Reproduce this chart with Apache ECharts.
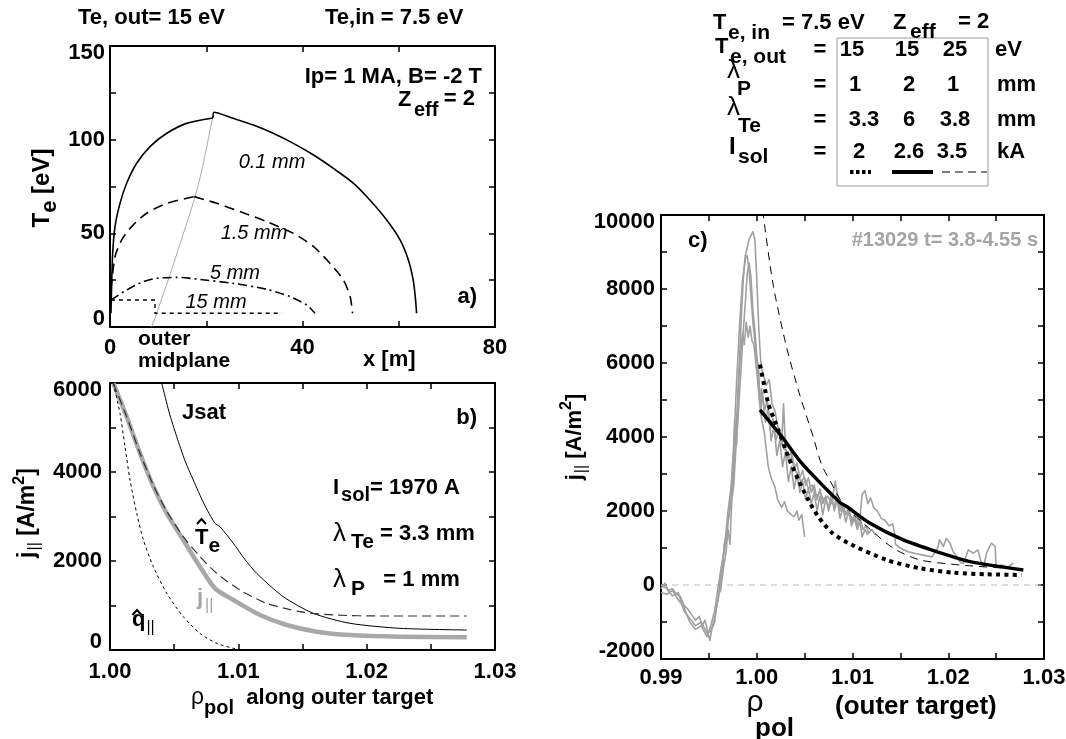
<!DOCTYPE html>
<html><head><meta charset="utf-8">
<script src="https://cdn.jsdelivr.net/npm/echarts@6/dist/echarts.min.js"></script>
<style>html,body{margin:0;padding:0;background:#fff}#c{width:1066px;height:739px}</style>
</head><body><div id="c"></div>
<script>
// ---------- Panel a: Te along field line x [m] (inner leg / outer leg) ----------
const te01In = [[0.2,7.3],[0.35,23.3],[0.55,39.3],[1.04,53.6],[2.08,66],[3.46,76.7],[5.54,87.4],[8.31,96.3],[11.8,103.4],[15.9,108.7],[21.4,111.6]];
const te01Out = [[21.4,111.6],[21.6,114.6],[25.6,111.4],[29.8,107.8],[33.9,103.4],[38.1,98],[42.3,91.8],[46.4,84.7],[50.6,76.7],[54,67.8],[57.5,57.1],[60.3,46.4],[62,35.8],[63,25.1],[63.5,14.4],[63.7,7.3]];
const te15In = [[0.2,20],[1.04,37.5],[2.4,46.4],[4.5,53.6],[7.6,60.7],[11.8,66],[17.5,69.6]];
const te15Out = [[17.5,69.6],[22.2,66],[27,61.6],[32.6,56.2],[38.1,50],[42.3,42.9],[45.7,34],[48.5,25.1],[49.9,16.2],[50.4,7.3]];
const te5 = [[0.2,14.4],[3.5,19.8],[6.9,24.2],[9.7,26],[13.85,26.5],[18.7,25.4],[25.6,23.3],[32.6,20.1],[37.4,16.2],[40.9,11.7],[42.6,7.3]];
const te150 = [[0.2,14.4],[9.35,14.4],[9.35,7.3],[35.7,7.3]];
const midplane = [[8.66,0],[10.4,12.5],[12.1,25.1],[14,40],[15.9,55],[17.7,69.6],[19.2,85],[20.4,100],[21.5,114]];

// ---------- Panel b: model profiles along outer target ----------
const jsat = [[1.0039,6100],[1.00403,5993],[1.0046,5350],[1.0052,4793],[1.00585,4250],[1.00649,3820],[1.0073,3300],[1.00818,2847],[1.00857,2771],[1.00961,2397],[1.0105,2040],[1.01143,1723],[1.0135,1198],[1.01584,824],[1.0187,600],[1.0226,487],[1.0278,449]];
const jpar = [[1.00026,5993],[1.0013,5243],[1.00234,4420],[1.00338,3670],[1.00442,3071],[1.00571,2472],[1.00701,1872],[1.00818,1386],[1.00961,1124],[1.01169,787],[1.01377,562],[1.0161,412],[1.0187,337],[1.0226,300],[1.0278,285]];
const teHat = [[1.00026,5993],[1.0013,5243],[1.00234,4420],[1.00338,3700],[1.00442,3120],[1.00571,2547],[1.00701,2097],[1.00831,1723],[1.01013,1348],[1.01221,1049],[1.0148,861],[1.0174,787],[1.0213,764],[1.0278,764]];
const qHat = [[1.00026,5993],[1.00078,5318],[1.00117,4568],[1.00156,3820],[1.00208,3071],[1.0026,2472],[1.00338,1872],[1.00442,1274],[1.00571,749],[1.00701,375],[1.00831,150],[1.00961,37],[1.0101,10]];

// ---------- Panel c: measured and modelled j|| ----------
const expA = [[0.99,-100],[0.9904,50],[0.9908,-150],[0.9912,-100],[0.9916,-250],[0.992,-300],[0.9924,-550],[0.9928,-650],[0.9932,-800],[0.9936,-950],[0.994,-850],[0.9943,-1100],[0.9946,-950],[0.9949,-1300],[0.9951,-1500],[0.9953,-1200],[0.9956,-1000],[0.9958,-600],[0.996,-350],[0.9962,100],[0.9964,300],[0.9966,1100],[0.9968,1300],[0.997,1700],[0.9972,2000],[0.9974,2500],[0.9976,3100],[0.9978,4000],[0.998,5000],[0.9982,6100],[0.9984,7300],[0.9986,8300],[0.9988,8900],[0.999,9100],[0.9992,9350],[0.9994,9400],[0.9996,9550],[0.9998,9350],[1.0,8300],[1.0002,7000],[1.0004,6100],[1.0006,5700],[1.0008,5600],[1.001,5400],[1.0013,5550],[1.0016,4900],[1.0019,4700],[1.0022,4300],[1.0025,4000],[1.0028,3700],[1.0031,3600],[1.0034,3300],[1.0037,3500],[1.004,3100],[1.0043,3000],[1.0046,2800],[1.005,2900],[1.0054,2600],[1.0058,2700],[1.0062,2400],[1.0066,2500],[1.007,2300],[1.0074,2400],[1.0078,2200],[1.0082,2800],[1.0085,2300],[1.0088,2100],[1.0092,2000],[1.0096,1900],[1.01,1800],[1.0104,1700],[1.0108,1900],[1.011,2450],[1.0113,2550],[1.0116,2200],[1.0119,2350],[1.0122,2100],[1.0126,2000],[1.013,1800],[1.0134,1750],[1.0138,1600],[1.0142,1650],[1.0144,1400],[1.0145,1100],[1.015,1000],[1.0158,900],[1.0166,850],[1.0175,800],[1.0183,760],[1.0189,1000],[1.0191,1220],[1.0195,1040],[1.0198,1260],[1.0202,1120],[1.0205,900],[1.0209,770],[1.0213,600],[1.0216,590],[1.0221,950],[1.0226,860],[1.0231,950],[1.0234,650],[1.0237,500],[1.024,860],[1.0245,1130],[1.0249,1040],[1.025,500],[1.0256,540],[1.0262,480],[1.0268,590]];
const expB = [[0.99,0],[0.9906,-100],[0.9912,-300],[0.9918,-200],[0.9924,-700],[0.993,-900],[0.9936,-1100],[0.9942,-1000],[0.9948,-1300],[0.9952,-1250],[0.9956,-900],[0.996,-300],[0.9964,600],[0.9967,1200],[0.997,2000],[0.9973,2600],[0.9976,3800],[0.9979,5500],[0.9982,7000],[0.9985,8200],[0.9988,8800],[0.999,8900],[0.9992,8500],[0.9994,7800],[0.9996,7100],[0.9998,6600],[1.0,6100],[1.0003,5000],[1.0005,4500],[1.0008,4100],[1.0012,3200],[1.0015,2900],[1.0019,2650],[1.0022,2300],[1.0026,2100],[1.0029,2250],[1.0032,2000],[1.0036,1900],[1.0039,1850],[1.0042,2000],[1.0044,1750],[1.0047,1900],[1.0049,1500],[1.005,1300]];
const expC = [[0.99,-200],[0.9906,-250],[0.9912,-150],[0.9918,-400],[0.9924,-600],[0.993,-1000],[0.9936,-1200],[0.9942,-1100],[0.9948,-1400],[0.9952,-1100],[0.9956,-700],[0.996,0],[0.9963,500],[0.9966,900],[0.9969,1400],[0.9972,2200],[0.9975,3000],[0.9977,4500],[0.9979,3800],[0.9981,5500],[0.9983,6200],[0.9985,6800],[0.9987,6500],[0.9989,7100],[0.9991,6700],[0.9993,7000],[0.9995,6600],[0.9997,6500],[0.9999,6000],[1.0001,5500],[1.0003,4900],[1.0005,5300],[1.0008,4700],[1.0011,5000],[1.0014,4200],[1.0017,4500],[1.002,3900],[1.0023,4200],[1.0026,3800],[1.0028,4900],[1.003,3700],[1.0033,3400],[1.0036,3600],[1.0039,3100],[1.0042,3300],[1.0045,2900],[1.0048,3100],[1.0051,2700],[1.0054,2900],[1.0057,2500],[1.006,2700],[1.0063,2300],[1.0066,2600],[1.0069,2200],[1.0072,2400],[1.0075,2000],[1.0078,2300],[1.0081,2100],[1.0084,2500],[1.0087,2000],[1.009,2200],[1.0093,1900],[1.0096,2100],[1.0099,1700],[1.0102,1900],[1.0105,1600],[1.0108,1800],[1.0111,1500],[1.0114,1600],[1.0117,1400],[1.012,1500],[1.0124,1350]];
const expD = [[0.9962,-200],[0.9965,400],[0.9968,900],[0.997,1500],[0.9972,1100],[0.9974,2300],[0.9976,2700],[0.9978,3600],[0.998,4300],[0.9982,5200],[0.9984,6000],[0.9986,6900],[0.9988,7600],[0.999,8400],[0.9992,8700],[0.9994,8300],[0.9996,7400],[0.9998,6900],[1.0,6200],[1.0002,5800],[1.0004,4600],[1.0006,5200],[1.0009,4400],[1.0012,4800],[1.0015,3900],[1.0018,4300],[1.0021,3500],[1.0024,3900],[1.0027,3200],[1.003,3600],[1.0033,2800],[1.0036,3200],[1.0039,2600],[1.0042,3000],[1.0045,2500],[1.0048,2800],[1.0051,2300],[1.0054,2600],[1.0057,2200],[1.006,2500],[1.0063,2000],[1.0066,2400],[1.0069,1900],[1.0072,2300],[1.0075,2100],[1.0078,2500],[1.0081,2000],[1.0084,2300],[1.0087,1800],[1.009,2100],[1.0093,1700],[1.0096,2000],[1.0099,1600],[1.0102,1800],[1.0105,1500],[1.0108,1700],[1.011,1300],[1.0113,1500],[1.0116,1350]];
const zeroLine = [[0.99,0],[1.03,0]];
const dashC = [[1.0006,10500],[1.00069,10000],[1.00173,8090],[1.00312,6420],[1.00452,5115],[1.0059,4000],[1.00678,3247],[1.0079,2700],[1.00900,2200],[1.01113,1669],[1.01427,992],[1.01705,677],[1.02124,541],[1.02611,451],[1.0268,440]];
const solidC = [[1.00034,4736],[1.00261,4014],[1.00469,3292],[1.00678,2720],[1.0087,2230],[1.0094,2120],[1.01183,1669],[1.01531,1217],[1.01879,902],[1.02227,631],[1.02784,406]];
const dottedC = [[1.00034,5953],[1.00121,4900],[1.00225,4194],[1.00329,3472],[1.00434,2841],[1.00538,2300],[1.00642,1849],[1.00782,1420],[1.0096,1127],[1.01357,676],[1.01705,451],[1.02053,334],[1.024,289],[1.02766,271]];

// ---------- table values ----------
const tableTeOut = ['15','15','25'];
const tableLamP = ['1','2','1'];
const tableLamTe = ['3.3','6','3.8'];
const tableIsol = ['2','2.6','3.5'];

const FF = '"Liberation Sans", Helvetica, Arial, sans-serif';
const chart = echarts.init(document.getElementById('c'), null, {renderer:'canvas'});

function fmtLabel(min, max, digits) {
  return function (v) {
    const s = digits ? v.toFixed(digits) : String(Math.round(v));
    if (Math.abs(v - max) < 1e-9) return '{hi|' + s + '}';
    if (Math.abs(v - min) < 1e-9) return '{lo|' + s + '}';
    return '{n|' + s + '}';
  };
}
const labRich = {
  n:{fontFamily:FF,fontWeight:'bold',fontSize:22,color:'#000'},
  hi:{fontFamily:FF,fontWeight:'bold',fontSize:22,color:'#000',padding:[14,0,0,0]},
  lo:{fontFamily:FF,fontWeight:'bold',fontSize:22,color:'#000',padding:[0,0,16,0]}
};
const lineSt = {color:'#000', width:2};
const tickSt = {color:'#000', width:1.5};

function xAx(g, min, max, interval, digits, margin, show) {
  return {type:'value', gridIndex:g, min:min, max:max, interval:interval, position: show ? 'bottom':'top',
    axisLine:{show:true, onZero:false, lineStyle:lineSt},
    axisTick:{show:true, inside:true, length:6, lineStyle:tickSt},
    minorTick:{show:true, splitNumber:2, length:6, lineStyle:tickSt},
    splitLine:{show:false}, minorSplitLine:{show:false},
    axisLabel:{show:show, margin:margin, hideOverlap:false, showMinLabel:true, showMaxLabel:true,
      fontFamily:FF, fontWeight:'bold', fontSize:22, color:'#000',
      formatter: function(v){ return digits ? v.toFixed(digits) : String(Math.round(v)); }}};
}
function yAx(g, min, max, interval, margin, show) {
  return {type:'value', gridIndex:g, min:min, max:max, interval:interval, position: show ? 'left':'right',
    axisLine:{show:true, onZero:false, lineStyle:lineSt},
    axisTick:{show:true, inside:true, length:6, lineStyle:tickSt},
    minorTick:{show:true, splitNumber:2, length:6, lineStyle:tickSt},
    splitLine:{show:false}, minorSplitLine:{show:false},
    axisLabel:{show:show, margin:margin, hideOverlap:false, showMinLabel:true, showMaxLabel:true,
      fontFamily:FF, fontWeight:'bold', fontSize:22, color:'#000', rich:labRich,
      formatter: fmtLabel(min, max, 0)}};
}

function S(xi, data, color, width, type, z, smooth) {
  return {type:'line', xAxisIndex:xi, yAxisIndex:xi, data:data, showSymbol:false, symbol:'none',
    silent:true, animation:false, clip:true, z:z||2, smooth: smooth || false,
    lineStyle:{color:color, width:width, type:type||'solid', cap:'butt', join:'round'}};
}

// text helpers
function st(size, o) {
  o = o || {};
  const r = {fontSize:size, fontFamily:FF, fontWeight:o.w||'bold', fontStyle:o.it?'italic':'normal', fill:o.c||'#000', lineHeight:size};
  const sh = o.sh || 0, pl = o.pl || 0;
  if (sh || pl) r.padding = [sh>0?2*sh:0, 0, sh<0?-2*sh:0, pl];
  return r;
}
function T(x, y, text, o, rich) {
  o = o || {};
  const a = o.a || 'left';
  return {type:'text', x:x, y:y, rotation:o.rot||0, silent:true, z:100,
    style:{text:text, rich:rich||undefined, fontSize:o.size||22, fontFamily:FF, fontWeight:o.w||'bold',
      fontStyle:o.it?'italic':'normal', fill:o.c||'#000', align:a, verticalAlign:'middle',
      textAlign:a, textVerticalAlign:'middle'}};
}
function hat(x, y) {
  return {type:'polyline', silent:true, z:100, shape:{points:[[x-4.5,y+3],[x,y-2],[x+4.5,y+3]]}, style:{stroke:'#000', lineWidth:2, fill:null}};
}
function hline(x1, x2, y, w, dash, col) {
  return {type:'line', silent:true, z:100, shape:{x1:x1,y1:y,x2:x2,y2:y}, style:{stroke:col||'#000', lineWidth:w, lineDash:dash||null}};
}

const G = '#a4a4a4';
const graphics = [
  // panel a
  T(78,18,'Te, out= 15 eV'), T(325,18,'Te,in = 7.5 eV'),
  T(482,77,'Ip= 1 MA, B= -2 T',{a:'right'}),
  T(398,100,'Z'), T(414,110,'eff',{size:20}), T(475,99,'= 2',{a:'right'}),
  T(477,297,'a)',{a:'right'}),
  T(272,162,'0.1 mm',{size:20,w:'normal',it:true,a:'center'}),
  T(254,233,'1.5 mm',{size:20,w:'normal',it:true,a:'center'}),
  T(235,273,'5 mm',{size:20,w:'normal',it:true,a:'center'}),
  T(216,302,'15 mm',{size:20,w:'normal',it:true,a:'center'}),
  T(138,339,'outer',{size:21}), T(138,361,'midplane',{size:21}),
  T(363,360,'x [m]'),
  T(42,188,'{m|T}{s|e}{m| [eV]}',{rot:Math.PI/2,a:'center'},{m:st(24),s:st(22,{sh:8})}),
  // panel b
  T(182,413,'Jsat'), T(477,418,'b)',{a:'right'}),
  T(333,488,'{m|I}{s|sol}{m|= 1970 A}',{},{m:st(22),s:st(20,{sh:7,pl:2})}),
  T(333,534,'{g|λ}{s|Te}{m| = 3.3 mm}',{},{g:st(26,{w:'normal'}),s:st(21,{sh:8,pl:5}),m:st(22)}),
  T(333,580,'{g|λ}{s|P}{m|   = 1 mm}',{},{g:st(26,{w:'normal'}),s:st(21,{sh:9,pl:5}),m:st(22)}),
  T(195,538,'{m|T}{s|e}',{},{m:st(22),s:st(21,{sh:8})}), hat(201.5,521),
  T(197,598,'{m|j}{s|||}',{c:G},{m:st(22,{c:G}),s:st(16,{c:G,w:'normal',sh:8,pl:2})}),
  T(132,620,'{m|q}{s|||}',{},{m:st(22),s:st(16,{w:'normal',sh:8,pl:1})}), hat(137,612),
  T(28,513,'{m|j}{s|||}{m| [A/m}{p|2}{m|]}',{rot:Math.PI/2,a:'center'},{m:st(23),s:st(16,{w:'normal',sh:7,pl:1}),p:st(16,{sh:-8})}),
  T(191,698,'{g|ρ}{s|pol}{m|  along outer target}',{},{g:st(23,{w:'normal'}),s:st(20,{sh:10}),m:st(22)}),
  // panel c
  T(688,241,'c)'),
  T(1038,240,'#13029 t= 3.8-4.55 s',{a:'right',size:20,c:G}),
  T(575,437,'{m|j}{s|||}{m| [A/m}{p|2}{m|]}',{rot:Math.PI/2,a:'center'},{m:st(22),s:st(16,{w:'normal',sh:7,pl:1}),p:st(16,{sh:-8})}),
  T(755,703,'ρ',{size:30,w:'normal',a:'center'}),
  T(755,729,'pol',{size:26}),
  T(835,707,'(outer target)',{size:26}),
  // table
  {type:'rect', silent:true, z:90, shape:{x:837,y:38,width:151,height:148}, style:{fill:null, stroke:'#999', lineWidth:1}},
  T(713,23,'T'), T(728,33,'e, in',{size:21}), T(782,23,'= 7.5 eV'),
  T(893,23,'Z'), T(910,32,'eff',{size:21}), T(958,22,'= 2'),
  T(715,47,'T'), T(730,57,'e, out',{size:21}), T(820,50,'=',{a:'center'}),
  T(852,50,tableTeOut[0],{a:'center'}), T(907,50,tableTeOut[1],{a:'center'}), T(955,50,tableTeOut[2],{a:'center'}), T(995,50,'eV'),
  T(727,71,'λ',{size:26,w:'normal'}), T(737,89,'P',{size:21}), T(820,85,'=',{a:'center'}),
  T(855,85,tableLamP[0],{a:'center'}), T(909,85,tableLamP[1],{a:'center'}), T(953,85,tableLamP[2],{a:'center'}), T(997,85,'mm'),
  T(727,108,'λ',{size:26,w:'normal'}), T(738,126,'Te',{size:21}), T(820,120,'=',{a:'center'}),
  T(864,120,tableLamTe[0],{a:'center'}), T(909,120,tableLamTe[1],{a:'center'}), T(955,120,tableLamTe[2],{a:'center'}), T(997,120,'mm'),
  T(729,147,'I',{size:24}), T(738,157,'sol',{size:21}), T(820,152,'=',{a:'center'}),
  T(859,152,tableIsol[0],{a:'center'}), T(909,152,tableIsol[1],{a:'center'}), T(952,152,tableIsol[2],{a:'center'}), T(997,152,'kA'),
  hline(850,871,172,4,[3.5,2.5]), hline(892,933,172,4), hline(942,987,172,1.3,[8,5],'#555')
];

const option = {
  animation:false,
  backgroundColor:'#fff',
  textStyle:{fontFamily:FF},
  grid:[
    {left:110, top:46, width:385, height:281, containLabel:false, outerBoundsMode:'none'},
    {left:110, top:383, width:385, height:267, containLabel:false, outerBoundsMode:'none'},
    {left:661, top:215, width:383, height:444, containLabel:false, outerBoundsMode:'none'}
  ],
  xAxis:[
    xAx(0,0,80,40,0,10,true),
    xAx(1,1.0,1.03,0.01,2,11,true),
    xAx(2,0.99,1.03,0.01,2,8,true),
    xAx(0,0,80,40,0,10,false),
    xAx(1,1.0,1.03,0.01,2,11,false),
    xAx(2,0.99,1.03,0.01,2,8,false)
  ],
  yAxis:[
    yAx(0,0,150,50,5,true),
    yAx(1,0,6000,2000,8,true),
    yAx(2,-2000,10000,2000,6,true),
    yAx(0,0,150,50,5,false),
    yAx(1,0,6000,2000,8,false),
    yAx(2,-2000,10000,2000,6,false)
  ],
  series:[
    S(0, midplane, '#aaa', 1, 'solid', 2, 0.25),
    S(0, te01In, '#000', 1.6, 'solid', 3, 0.25),
    S(0, te01Out, '#000', 1.6, 'solid', 3, 0.25),
    S(0, te15In, '#000', 1.6, [10,6], 3, 0.25),
    S(0, te15Out, '#000', 1.6, [10,6], 3, 0.25),
    S(0, te5, '#000', 1.6, [9,4,2,4], 3, 0.25),
    S(0, te150, '#000', 1.4, [4,4], 3),

    S(1, qHat, '#000', 1, [3,3], 3, 0.25),
    S(1, jsat, '#000', 1, 'solid', 3, 0.25),
    S(1, jpar, '#a8a8a8', 4.5, 'solid', 2, 0.25),
    S(1, teHat, '#333', 1.2, [9,5], 4, 0.25),

    S(2, zeroLine, '#bbb', 1, [6,5]),
    S(2, expA, '#a0a0a0', 1.6),
    S(2, expB, '#a0a0a0', 1.6),
    S(2, expC, '#a0a0a0', 1.6),
    S(2, expD, '#a0a0a0', 1.6),
    S(2, dashC, '#000', 1, [8,6], 3, 0.25),
    S(2, solidC, '#000', 3.5, 'solid', 3, 0.25),
    S(2, dottedC, '#000', 4, [4,4.3], 3, 0.25)
  ],
  graphic:{elements:graphics}
};
chart.setOption(option);
</script>
</body></html>
